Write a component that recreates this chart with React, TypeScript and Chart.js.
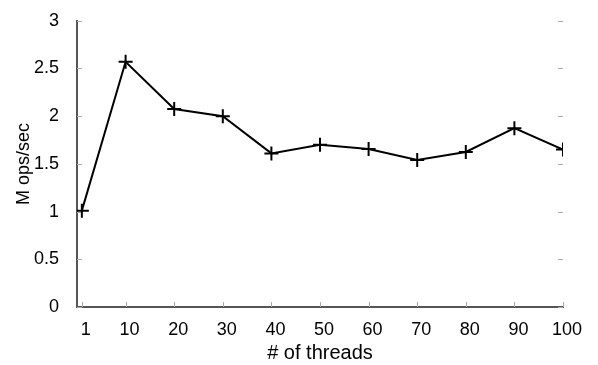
import React, { useEffect, useRef } from 'react';
import { Chart, registerables } from 'chart.js';

Chart.register(...registerables);

const threads = [1, 10, 20, 30, 40, 50, 60, 70, 80, 90, 100];
const opsPerSec = [1.01, 2.57, 2.075, 2.0, 1.61, 1.70, 1.655, 1.54, 1.625, 1.875, 1.65];
const yTickValues = [0, 0.5, 1, 1.5, 2, 2.5, 3];
const xTitle = '# of threads';
const yTitle = 'M ops/sec';

const FAMILY = '"Liberation Sans", Arial, sans-serif';
const TICK_FONT = { family: FAMILY, size: 18 };
const XTITLE_FONT = { family: FAMILY, size: 20 };
const YTITLE_FONT = { family: FAMILY, size: 18 };

const innerTicks = {
  id: 'innerTicks',
  beforeDatasetsDraw(chart: any) {
    const { ctx, chartArea, scales } = chart;
    const { left, right, bottom } = chartArea;
    ctx.save();
    ctx.strokeStyle = '#aaa';
    ctx.lineWidth = 1;
    ctx.beginPath();
    for (const v of yTickValues) {
      const py = Math.round(scales.y.getPixelForValue(v)) + 0.5;
      ctx.moveTo(left, py);
      ctx.lineTo(left + 5, py);
      ctx.moveTo(right - 5, py);
      ctx.lineTo(right, py);
    }
    for (const v of threads) {
      const px = Math.round(scales.x.getPixelForValue(v)) + 0.5;
      ctx.moveTo(px, bottom);
      ctx.lineTo(px, bottom - 5);
    }
    ctx.stroke();
    ctx.restore();
  },
};

export default function App() {
  const ref = useRef<HTMLCanvasElement>(null);
  useEffect(() => {
    if (!ref.current) return;
    const chart = new Chart(ref.current, {
      type: 'line',
      data: {
        datasets: [
          {
            data: threads.map((t, i) => ({ x: t, y: opsPerSec[i] })),
            borderColor: '#000',
            borderWidth: 2,
            pointStyle: 'cross',
            pointRadius: 7,
            pointBorderWidth: 2,
            pointBorderColor: '#000',
            pointBackgroundColor: '#000',
            tension: 0,
            fill: false,
          },
        ],
      },
      options: {
        responsive: false,
        animation: false,
        events: [],
        layout: { padding: { top: 14, right: 35, left: 0, bottom: 0 } },
        plugins: { legend: { display: false }, tooltip: { enabled: false } },
        scales: {
          x: {
            type: 'linear',
            min: 0,
            max: 100,
            afterBuildTicks: (s: any) => {
              s.ticks = threads.map((v) => ({ value: v }));
            },
            afterFit: (s: any) => {
              s.height = 58;
            },
            ticks: {
              autoSkip: false,
              maxRotation: 0,
              padding: 4,
              labelOffset: 4,
              color: '#000',
              font: TICK_FONT,
              callback: (v: any) => String(v),
            },
            grid: { display: false },
            border: { display: true, color: '#555', width: 2 },
            title: { display: true, text: xTitle, color: '#000', font: XTITLE_FONT, padding: { top: 2, bottom: 0 } },
          },
          y: {
            min: 0,
            max: 3,
            afterBuildTicks: (s: any) => {
              s.ticks = yTickValues.map((v) => ({ value: v }));
            },
            afterFit: (s: any) => {
              s.width = 77;
            },
            ticks: { padding: 10, color: '#000', font: TICK_FONT, callback: (v: any) => String(v) },
            grid: { display: false },
            border: { display: true, color: '#555', width: 2 },
            title: { display: true, text: yTitle, color: '#000', font: YTITLE_FONT, padding: { top: 13, bottom: 0 } },
          },
        },
      },
      plugins: [innerTicks],
    });
    return () => chart.destroy();
  }, []);
  return (
    <div style={{ position: 'absolute', left: 0, top: 0, width: 598, height: 365, background: '#fff' }}>
      <canvas ref={ref} width={598} height={365} />
    </div>
  );
}
